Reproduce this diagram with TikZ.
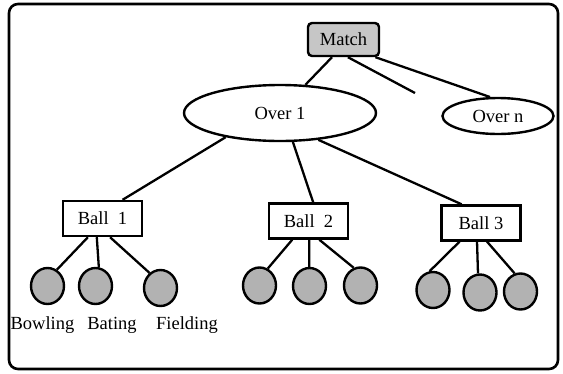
\documentclass[tikz,border=0pt]{standalone}
\usepackage{fontspec}
\setmainfont{Liberation Serif}
\newfontfamily\timesfont{Liberation Serif}
\usetikzlibrary{shapes.geometric}
\begin{document}
\begin{tikzpicture}[x=1pt,y=-1pt,
 every node/.style={font=\timesfont\fontsize{18.5}{22}\selectfont, inner sep=0pt},
 rootbox/.style={draw, line width=2.4pt, rounded corners=4pt, fill=gray!45, minimum width=71pt, minimum height=33pt},
 overnode/.style={draw, ellipse, line width=2.4pt},
 ballbox/.style={draw, line width=2.4pt, minimum width=79pt, minimum height=35pt},
 leaf/.style={draw, ellipse, fill=gray!60, line width=2.4pt, minimum width=33pt, minimum height=36pt},
 link/.style={line width=2.3pt},
 frame/.style={line width=2.6pt, rounded corners=9pt}]
\useasboundingbox (0,0) rectangle (563,373);
\draw[frame] (9,4) rectangle (558,369);

\node[rootbox] (match) at (343.5,39.5) {Match};
\node[overnode, minimum width=192pt, minimum height=56pt] (over1) at (280,113) {Over 1};
\node[overnode, minimum width=111pt, minimum height=36pt] (overn) at (498,116) {Over n};
\coordinate (gap) at (415,93);

\node[ballbox] (ball1) at (102.5,218.5) {Ball\ \ 1};
\node[ballbox] (ball2) at (308.5,221) {Ball\ \ 2};
\node[ballbox] (ball3) at (481,223) {Ball 3};

\node[leaf] (c11) at (47.5,286) {};
\node[leaf] (c12) at (95.5,286) {};
\node[leaf] (c13) at (160.5,288) {};
\node[leaf] (c21) at (259.5,285.5) {};
\node[leaf] (c22) at (309.5,286) {};
\node[leaf] (c23) at (360.5,285.5) {};
\node[leaf] (c31) at (433,290) {};
\node[leaf] (c32) at (480,292.5) {};
\node[leaf] (c33) at (520.5,291.5) {};

\node (bowl) at (42.5,325) {Bowling};
\node (bat) at (112,325) {Bating};
\node (field) at (187,325) {Fielding};

\draw[link] (match.-123) -- (over1.48);
\draw[link] (match.-76) -- (gap);
\draw[link] (match.-29) -- (overn.113);

\draw[link] (over1.-156) -- (ball1.43.5);
\draw[link] (over1.-66) -- (ball2.76);
\draw[link] (over1.-35) -- (ball3.136.5);

\draw[link] (ball1.-128) -- (c11.60);
\draw[link] (ball1.-107) -- (c12.80);
\draw[link] (ball1.-68) -- (c13.126);

\draw[link] (ball2.-131) -- (c21.64);
\draw[link] (ball2.-88) -- (c22.91);
\draw[link] (ball2.-60) -- (c23.111);

\draw[link] (ball3.-139) -- (c31.100);
\draw[link] (ball3.-102) -- (c32.96);
\draw[link] (ball3.-72) -- (c33.108);
\end{tikzpicture}
\end{document}
